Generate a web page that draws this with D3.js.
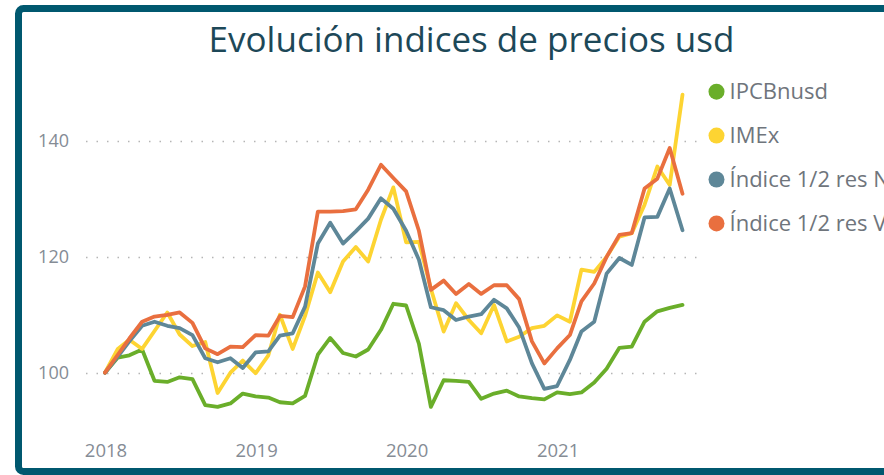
<!DOCTYPE html>
<html>
<head>
<meta charset="utf-8">
<title>Evolución indices de precios usd</title>
<script src="https://d3js.org/d3.v7.min.js"></script>
<style>
  body { margin: 0; background: #fff; }
  svg { display: block; font-family: "Open Sans", "Noto Sans", sans-serif; }
</style>
</head>
<body>
<svg id="chart"></svg>
<script>
// monthly values, Jan 2018 .. Nov 2021 (index base 100 = Jan 2018)
const seriesNames = ["IPCBnusd", "IMEx", "Índice 1/2 res N", "Índice 1/2 res V"];
const ipcbValues = [100, 102.6, 103.0, 104.0, 98.6, 98.4, 99.2, 98.9, 94.4, 94.1,
    94.7, 96.4, 95.9, 95.7, 94.9, 94.7, 96.0, 103.1, 106.0, 103.4,
    102.8, 104.0, 107.4, 111.9, 111.6, 105.0, 94.1, 98.7, 98.6, 98.4,
    95.5, 96.4, 96.9, 95.9, 95.6, 95.4, 96.6, 96.3, 96.6, 98.3,
    100.7, 104.3, 104.5, 108.8, 110.6, 111.2, 111.7];
const imexValues = [100, 104.1, 105.7, 104.1, 107.2, 110.4, 106.6, 104.6, 105.3, 96.5,
    100.0, 102.1, 99.9, 103.0, 110.0, 104.1, 109.8, 117.3, 113.9, 119.2,
    121.7, 119.2, 126.4, 132.0, 122.5, 122.6, 114.5, 107.1, 112.0, 109.1,
    106.8, 111.7, 105.4, 106.2, 107.7, 108.1, 109.9, 108.8, 117.8, 117.4,
    120.0, 123.5, 124.1, 129.0, 135.6, 132.4, 148.0];
const resNValues = [100, 102.8, 105.4, 108.1, 108.8, 108.1, 107.7, 106.5, 102.5, 101.8,
    102.5, 100.8, 103.5, 103.7, 106.4, 106.8, 111.4, 122.3, 125.9, 122.3,
    124.4, 126.6, 130.1, 128.3, 124.5, 119.5, 111.3, 110.8, 109.1, 109.7,
    110.1, 112.6, 111.1, 107.8, 101.6, 97.2, 97.7, 102.2, 107.1, 108.8,
    117.1, 119.8, 118.6, 126.8, 126.9, 131.8, 124.6];
const resVValues = [100, 103.1, 105.9, 108.8, 109.7, 110.0, 110.4, 108.6, 104.2, 103.2,
    104.5, 104.4, 106.5, 106.4, 109.8, 109.6, 114.9, 127.8, 127.8, 127.9,
    128.2, 131.6, 135.9, 133.6, 131.3, 124.5, 114.3, 115.9, 113.6, 115.3,
    113.6, 115.1, 115.1, 112.7, 105.4, 101.6, 104.2, 106.5, 112.3, 115.4,
    120.0, 123.8, 124.1, 131.8, 133.5, 138.8, 130.9];
const yTicks = [100, 120, 140];
const xTickYears = [2018, 2019, 2020, 2021];

const months = d3.timeMonth.range(new Date(2018, 0, 1), new Date(2021, 11, 1));
const allValues = [ipcbValues, imexValues, resNValues, resVValues];
const colors = ["#6AAE2A", "#FDD432", "#5E8798", "#E96F3F"];

const width = 884;
const height = 475;

const svg = d3.select("#chart")
    .attr("width", width)
    .attr("height", height);

// frame
svg.append("rect")
    .attr("x", 18.5)
    .attr("y", 8.5)
    .attr("width", 1000)
    .attr("height", 463)
    .attr("rx", 5)
    .attr("fill", "#fff")
    .attr("stroke", "#00586F")
    .attr("stroke-width", 7);

svg.append("text")
    .attr("x", 471.5)
    .attr("y", 52)
    .attr("text-anchor", "middle")
    .attr("fill", "#1D4858")
    .style("font-size", "35px")
    .text("Evolución indices de precios usd");

const x = d3.scaleTime()
    .domain([months[0], months[months.length - 1]])
    .range([105, 682.5]);

const y = d3.scaleLinear()
    .domain([100, 140])
    .range([372.7, 141]);

// dotted gridlines
svg.append("g")
    .selectAll("line")
    .data(yTicks)
    .join("line")
    .attr("x1", 86)
    .attr("x2", 700)
    .attr("y1", d => Math.round(y(d)) + 0.5)
    .attr("y2", d => Math.round(y(d)) + 0.5)
    .attr("stroke", "#b5b5b5")
    .attr("stroke-width", 1.5)
    .attr("stroke-dasharray", "1.5 9");

svg.append("g")
    .selectAll("text")
    .data(yTicks)
    .join("text")
    .attr("x", 69)
    .attr("y", d => y(d))
    .attr("dy", "0.35em")
    .attr("text-anchor", "end")
    .attr("fill", "#858C95")
    .style("font-size", "18px")
    .text(d => d);

svg.append("g")
    .selectAll("text")
    .data(xTickYears)
    .join("text")
    .attr("x", d => x(new Date(d, 0, 1)) + 1)
    .attr("y", 451)
    .attr("dy", "0.35em")
    .attr("text-anchor", "middle")
    .attr("fill", "#858C95")
    .style("font-size", "18.5px")
    .text(d => d);

const line = d3.line()
    .x((d, i) => x(months[i]))
    .y(d => y(d));

svg.append("g")
    .selectAll("path")
    .data(allValues)
    .join("path")
    .attr("d", line)
    .attr("fill", "none")
    .attr("stroke", (d, i) => colors[i])
    .attr("stroke-width", 3.8)
    .attr("stroke-linejoin", "round")
    .attr("stroke-linecap", "round");

// legend
const legend = svg.append("g")
    .selectAll("g")
    .data(seriesNames)
    .join("g")
    .attr("transform", (d, i) => `translate(716.5, ${91.7 + i * 43.9})`);

legend.append("circle")
    .attr("r", 8)
    .attr("fill", (d, i) => colors[i]);

legend.append("text")
    .attr("x", 13)
    .attr("dy", "0.35em")
    .attr("fill", "#6F757C")
    .style("font-size", "22px")
    .text(d => d);
</script>
</body>
</html>
